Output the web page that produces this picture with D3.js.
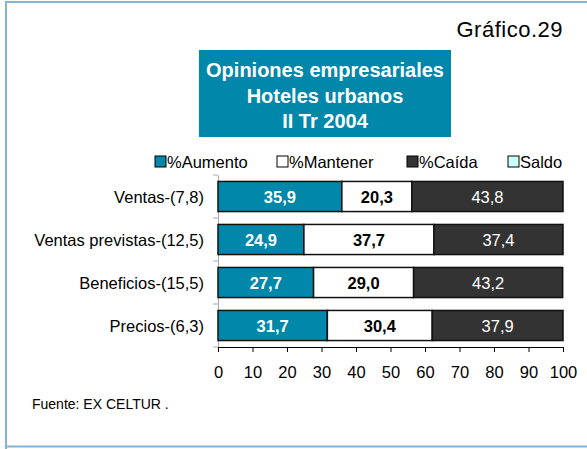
<!DOCTYPE html>
<html>
<head>
<meta charset="utf-8">
<script src="https://cdn.jsdelivr.net/npm/d3@7"></script>
<style>
  body { margin: 0; background: #fff; }
  text { font-family: "Liberation Sans", Arial, sans-serif; }
</style>
</head>
<body>
<div id="chart"></div>
<script>
// data
var categories = ["Ventas-(7,8)", "Ventas previstas-(12,5)", "Beneficios-(15,5)", "Precios-(6,3)"];
var aumento = [35.9, 24.9, 27.7, 31.7];
var mantener = [20.3, 37.7, 29.0, 30.4];
var caida = [43.8, 37.4, 43.2, 37.9];
var seriesNames = ["%Aumento", "%Mantener", "%Caída", "Saldo"];
var seriesColors = ["#0087a9", "#ffffff", "#333333", "#ccffff"];
var xTicks = [0, 10, 20, 30, 40, 50, 60, 70, 80, 90, 100];

var width = 587, height = 449;
var margin = {top: 175, right: 24, bottom: 102, left: 218};

var svg = d3.select("#chart").append("svg")
  .attr("width", width)
  .attr("height", height);

// frame
svg.append("path")
  .attr("d", "M6,449 L6,2 L587,2 M6,446.5 L587,446.5")
  .attr("fill", "none")
  .attr("stroke", "#7fb6d4")
  .attr("stroke-width", 2);

svg.append("text")
  .attr("x", 563).attr("y", 37)
  .attr("text-anchor", "end")
  .style("font-size", "22px")
  .style("letter-spacing", "0.5px")
  .text("Gráfico.29");

// title box
svg.append("rect")
  .attr("x", 199).attr("y", 50)
  .attr("width", 252).attr("height", 87)
  .attr("fill", "#0087a9");

var titleLines = ["Opiniones  empresariales", "Hoteles urbanos", "II Tr 2004"];
svg.selectAll(".title")
  .data(titleLines)
  .enter().append("text")
  .attr("x", 325)
  .attr("y", function(d, i) { return 77 + i * 25.5; })
  .attr("text-anchor", "middle")
  .attr("fill", "#fff")
  .style("font-size", "20px")
  .style("font-weight", "bold")
  .text(function(d) { return d; });

// legend
var legendX = [155, 277, 407, 508];
var legend = svg.selectAll(".legend")
  .data(seriesNames)
  .enter().append("g")
  .attr("transform", function(d, i) { return "translate(" + legendX[i] + ",156)"; });
legend.append("rect")
  .attr("width", 11).attr("height", 11)
  .attr("fill", function(d, i) { return seriesColors[i]; })
  .attr("stroke", "#000")
  .attr("stroke-width", 1);
legend.append("text")
  .attr("x", 12).attr("y", 12)
  .style("font-size", "16.5px")
  .text(function(d) { return d; });

var x = d3.scaleLinear()
  .domain([0, 100])
  .range([margin.left, width - margin.right]);

var y = d3.scaleBand()
  .domain(categories)
  .range([margin.top, height - margin.bottom])
  .paddingInner(0.3)
  .paddingOuter(0.15);

// y axis (light grey)
var yAxis = svg.append("g")
  .attr("transform", "translate(" + margin.left + ",0)")
  .call(d3.axisLeft(y).tickSize(0).tickFormat(""));
yAxis.select(".domain").attr("stroke", "#aaa");
var step = y.step();
svg.selectAll(".ytick")
  .data(d3.range(0, categories.length + 1))
  .enter().append("line")
  .attr("x1", margin.left - 5).attr("x2", margin.left)
  .attr("y1", function(d) { return margin.top + d * step; })
  .attr("y2", function(d) { return margin.top + d * step; })
  .attr("stroke", "#aaa");

svg.selectAll(".cat")
  .data(categories)
  .enter().append("text")
  .attr("x", 204)
  .attr("y", function(d) { return y(d) + y.bandwidth() / 2 + 6; })
  .attr("text-anchor", "end")
  .style("font-size", "16.5px")
  .text(function(d) { return d; });

// stacked bars
var rows = categories.map(function(c, i) {
  return {cat: c, values: [aumento[i], mantener[i], caida[i]]};
});
var fmt = function(v) { return v.toFixed(1).replace(".", ","); };

rows.forEach(function(r) {
  var start = 0;
  r.values.forEach(function(v, j) {
    svg.append("rect")
      .attr("x", x(start))
      .attr("y", y(r.cat))
      .attr("width", x(start + v) - x(start))
      .attr("height", y.bandwidth())
      .attr("fill", seriesColors[j])
      .attr("stroke", "#111")
      .attr("stroke-width", 1.5);
    svg.append("text")
      .attr("x", x(start + v / 2))
      .attr("y", y(r.cat) + y.bandwidth() / 2 + 6)
      .attr("text-anchor", "middle")
      .attr("fill", j == 1 ? "#000" : "#fff")
      .style("font-size", "16.5px")
      .style("font-weight", j == 2 ? "normal" : "bold")
      .text(fmt(v));
    start += v;
  });
});

// x axis
var xAxis = svg.append("g")
  .attr("transform", "translate(0," + (height - margin.bottom) + ")")
  .call(d3.axisBottom(x).tickValues(xTicks).tickSize(5).tickSizeOuter(0).tickPadding(14));
xAxis.selectAll("text").style("font-size", "16.5px").attr("fill", "#000");
xAxis.select(".domain").attr("stroke", "#000");

svg.append("text")
  .attr("x", 32).attr("y", 409)
  .style("font-size", "14px")
  .text("Fuente: EX CELTUR .");
</script>
</body>
</html>
